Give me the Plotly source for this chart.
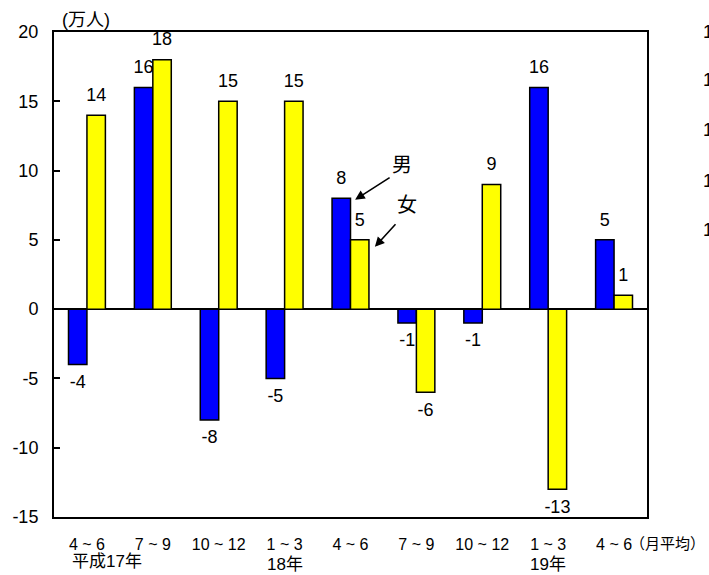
import plotly.graph_objects as go

categories = ["4 ~ 6", "7 ~ 9", "10 ~ 12", "1 ~ 3", "4 ~ 6", "7 ~ 9", "10 ~ 12", "1 ~ 3", "4 ~ 6"]
male = [-4, 16, -8, -5, 8, -1, -1, 16, 5]
female = [14, 18, 15, 15, 5, -6, 9, -13, 1]
year_labels = [(0, "平成17年"), (3, "18年"), (7, "19年")]
y_ticks = [-15, -10, -5, 0, 5, 10, 15, 20]

W, H = 709, 575
L, R, T, B = 54, 62, 32, 58
PW = W - L - R
PH = H - T - B
FONT = "Arial, Liberation Sans, Noto Sans CJK JP, sans-serif"
GAP = 0.44

xs = list(range(len(categories)))

fig = go.Figure()
for name, vals, color, grp in [("男", male, "#0000FF", "m"), ("女", female, "#FFFF00", "f")]:
    fig.add_trace(go.Bar(
        x=xs, y=vals, name=name, offsetgroup=grp,
        marker=dict(color=color, line=dict(color="black", width=1.5)),
        hoverinfo="skip",
    ))
for name, vals, grp in [("男", male, "m"), ("女", female, "f")]:
    fig.add_trace(go.Scatter(
        x=xs, y=vals, name=name + "値", offsetgroup=grp,
        mode="markers+text",
        marker=dict(size=14, opacity=0, color="white"),
        text=[str(v) for v in vals],
        textposition=["top center" if v >= 0 else "bottom center" for v in vals],
        textfont=dict(size=18, color="black", family=FONT),
        cliponaxis=False, hoverinfo="skip",
    ))

def px2x(px):
    return (px - L) / PW

def py2y(py):
    return 1 - (py - T) / PH

annotations = []
# year labels under ticks
for idx, lab in year_labels:
    if idx == 0:
        annotations.append(dict(x=-0.26, y=-15, xref="x", yref="y", text=lab, showarrow=False,
                                xanchor="left", yanchor="middle", yshift=-44,
                                font=dict(size=17, family=FONT, color="black")))
    else:
        annotations.append(dict(x=idx, y=-15, xref="x", yref="y", text=lab, showarrow=False,
                                xanchor="center", yanchor="middle", yshift=-47,
                                font=dict(size=17, family=FONT, color="black")))
# unit label
annotations.append(dict(x=px2x(60), y=py2y(20), xref="paper", yref="paper", text="(万人)",
                        showarrow=False, xanchor="left", yanchor="middle",
                        font=dict(size=18, family=FONT, color="black")))
# (月平均)
annotations.append(dict(x=px2x(628), y=py2y(543), xref="paper", yref="paper", text="（月平均）",
                        showarrow=False, xanchor="left", yanchor="middle",
                        font=dict(size=15, family=FONT, color="black")))
# arrows
annotations.append(dict(x=4.07, y=7.9, xref="x", yref="y", ax=36, ay=-23, text="",
                        showarrow=True, arrowhead=2, arrowsize=1.2, arrowwidth=1.6, arrowcolor="black"))
annotations.append(dict(x=4.37, y=4.5, xref="x", yref="y", ax=22, ay=-24, text="",
                        showarrow=True, arrowhead=2, arrowsize=1.2, arrowwidth=1.6, arrowcolor="black"))
annotations.append(dict(x=px2x(402), y=py2y(152), xref="paper", yref="paper", text="男", showarrow=False,
                        font=dict(size=20, family=FONT, color="black")))
annotations.append(dict(x=px2x(407), y=py2y(205), xref="paper", yref="paper", text="女", showarrow=False,
                        font=dict(size=20, family=FONT, color="black")))
# clipped text at right edge
for py in [32, 80, 130, 181, 230]:
    annotations.append(dict(x=px2x(701), y=py2y(py), xref="paper", yref="paper", text="1",
                            showarrow=False, xanchor="left", yanchor="middle",
                            font=dict(size=18, family=FONT, color="black")))

fig.update_layout(
    width=W, height=H,
    margin=dict(l=L, r=R, t=T, b=B),
    paper_bgcolor="white", plot_bgcolor="white",
    barmode="group", bargap=GAP, bargroupgap=0,
    scattermode="group", scattergap=GAP,
    showlegend=False,
    font=dict(family=FONT, color="black"),
    annotations=annotations,
    xaxis=dict(
        range=[-0.5, 8.5], tickvals=xs, ticktext=categories,
        showline=True, linecolor="black", linewidth=2, mirror=True,
        showgrid=False, ticks="", zeroline=False, ticklabelstandoff=12,
        tickfont=dict(size=16, family=FONT, color="black"),
    ),
    yaxis=dict(
        range=[-15, 20], tickvals=y_ticks, ticktext=[str(v) for v in y_ticks],
        showline=True, linecolor="black", linewidth=2, mirror=True,
        showgrid=False, ticks="inside", ticklen=6, tickwidth=1.5, tickcolor="black",
        zeroline=True, zerolinecolor="black", zerolinewidth=1.5, ticklabelstandoff=10,
        tickfont=dict(size=18, family=FONT, color="black"),
    ),
)

fig.write_html("out.html", config={"displayModeBar": False},
               post_script="document.body.style.margin='0';document.body.style.padding='0';document.body.style.overflow='hidden';")
